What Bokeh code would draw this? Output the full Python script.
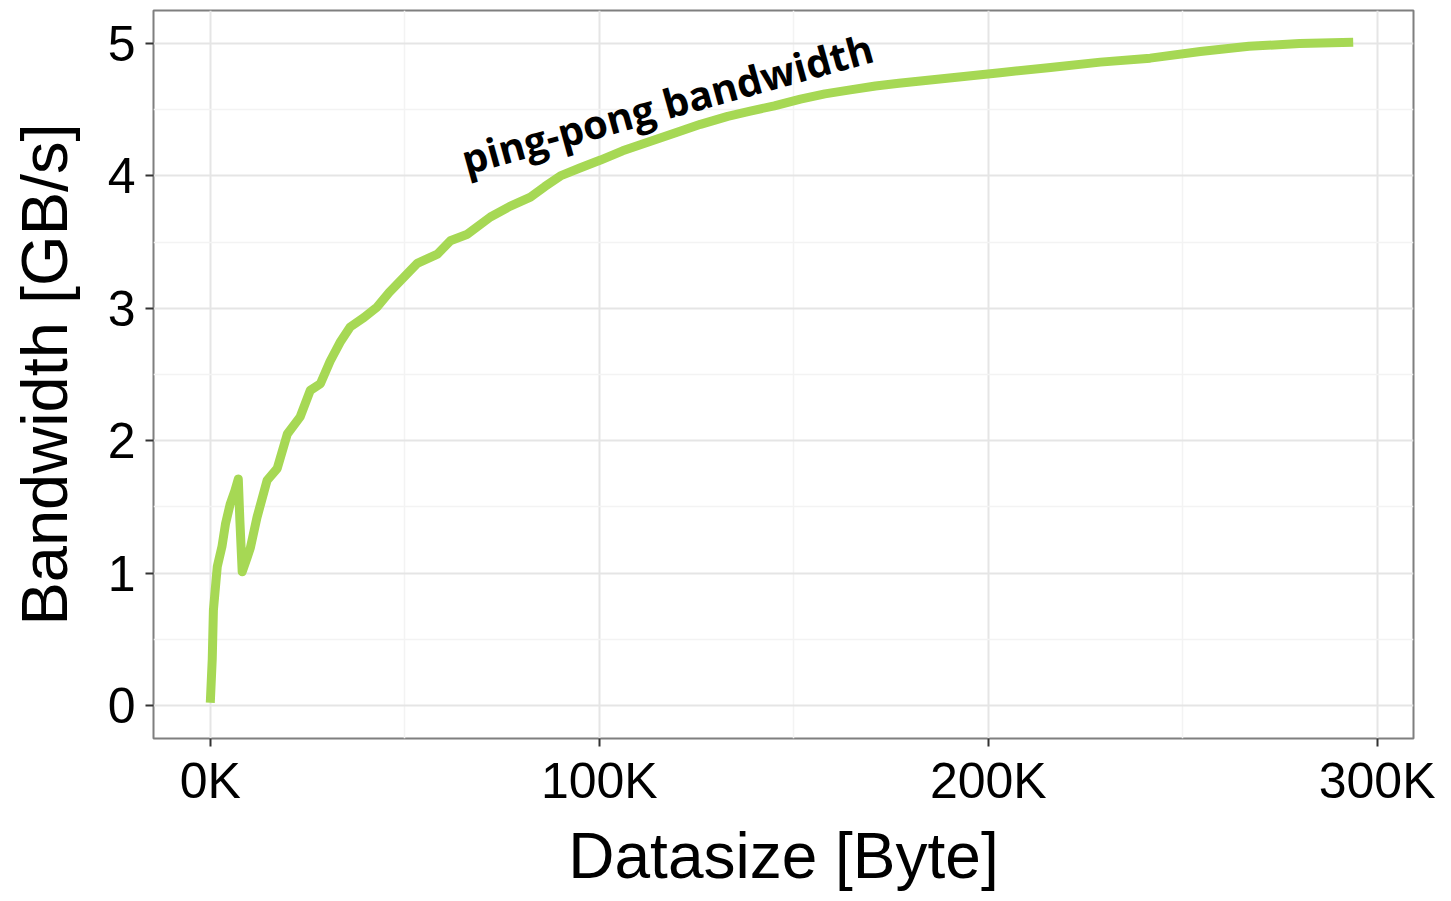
from bokeh.plotting import figure
from bokeh.models import FixedTicker, ColumnDataSource, Label
from bokeh.embed import file_html
from bokeh.resources import INLINE
import math

# Data (datasize in K bytes, bandwidth in GB/s)
datasize_k = [0.0, 0.5, 0.8, 1.8, 3.0, 3.9, 5.1, 6.3, 7.2, 7.6, 8.2, 9.5, 10.3, 12.0,
              14.6, 17.2, 19.8, 23.1, 25.7, 28.3, 30.8, 33.5, 36.0, 39.5, 42.9, 46.0,
              49.6, 53.2, 58.4, 61.7, 66.1, 72.0, 77.0, 82.3, 86.0, 90.0, 95.0, 100.3,
              106.0, 113.0, 120.0, 126.0, 133.0, 138.8, 145.0, 151.7, 158.0, 164.5,
              171.0, 177.0, 190.0, 203.0, 216.0, 228.8, 241.6, 254.5, 267.0, 280.0, 293.8]
bandwidth = [0.02, 0.35, 0.72, 1.05, 1.20, 1.37, 1.52, 1.62, 1.71, 1.40, 1.01, 1.12, 1.19, 1.42,
             1.70, 1.79, 2.05, 2.18, 2.38, 2.43, 2.60, 2.75, 2.86, 2.93, 3.01, 3.12,
             3.23, 3.34, 3.41, 3.51, 3.56, 3.69, 3.77, 3.84, 3.92, 4.00, 4.06, 4.12,
             4.19, 4.26, 4.33, 4.39, 4.45, 4.49, 4.53, 4.58, 4.62, 4.65,
             4.68, 4.70, 4.74, 4.78, 4.82, 4.86, 4.89, 4.94, 4.98, 5.00, 5.01]

x_ticks = [0, 100, 200, 300]
x_tick_labels = ["0K", "100K", "200K", "300K"]
x_minor = [50, 150, 250]
y_ticks = [0, 1, 2, 3, 4, 5]
y_minor = [0.5, 1.5, 2.5, 3.5, 4.5]

annotation_text = "ping-pong bandwidth"
annotation_x = 64.8
annotation_y = 4.12

src = ColumnDataSource(dict(x=datasize_k, y=bandwidth))

p = figure(width=1435, height=895, output_backend="svg", toolbar_location=None,
           x_range=(-14.6, 309.3), y_range=(-0.25, 5.25),
           min_border_left=153, min_border_right=22, min_border_top=10, min_border_bottom=157,
           background_fill_color="white", border_fill_color="white")

p.outline_line_color = "#7f7f7f"
p.outline_line_width = 2

p.line("x", "y", source=src, line_color="#a6d854", line_width=9, line_join="round")

p.xaxis.ticker = FixedTicker(ticks=x_ticks, minor_ticks=x_minor)
p.yaxis.ticker = FixedTicker(ticks=y_ticks, minor_ticks=y_minor)
p.xaxis.major_label_overrides = {t: l for t, l in zip(x_ticks, x_tick_labels)}

for ax in (p.xaxis[0], p.yaxis[0]):
    ax.axis_line_color = None
    ax.major_tick_line_color = "#333333"
    ax.major_tick_line_width = 2
    ax.major_tick_out = 8
    ax.major_tick_in = 0
    ax.minor_tick_line_color = None
    ax.major_label_text_font = "Liberation Sans"
    ax.major_label_text_font_size = "50px"
    ax.major_label_text_color = "#000000"
    ax.axis_label_text_font = "Liberation Sans"
    ax.axis_label_text_font_style = "normal"
    ax.axis_label_text_color = "#000000"

p.xaxis.axis_label = "Datasize [Byte]"
p.xaxis.axis_label_text_font_size = "64px"
p.xaxis.major_label_standoff = 6
p.xaxis.axis_label_standoff = 8

p.yaxis.axis_label = "Bandwidth [GB/s]"
p.yaxis.axis_label_text_font_size = "65px"
p.yaxis.major_label_standoff = 10
p.yaxis.axis_label_standoff = 24

for g in (p.xgrid[0], p.ygrid[0]):
    g.grid_line_color = "#e5e5e5"
    g.grid_line_width = 2
    g.minor_grid_line_color = "#f3f3f3"
    g.minor_grid_line_width = 1.5

p.add_layout(Label(x=annotation_x, y=annotation_y, text=annotation_text,
                   angle=math.radians(15.5), text_font="Open Sans",
                   text_font_style="bold", text_font_size="40px",
                   text_color="#000000", text_baseline="alphabetic", text_align="left"))

open("out.html", "w").write(file_html(p, INLINE))
